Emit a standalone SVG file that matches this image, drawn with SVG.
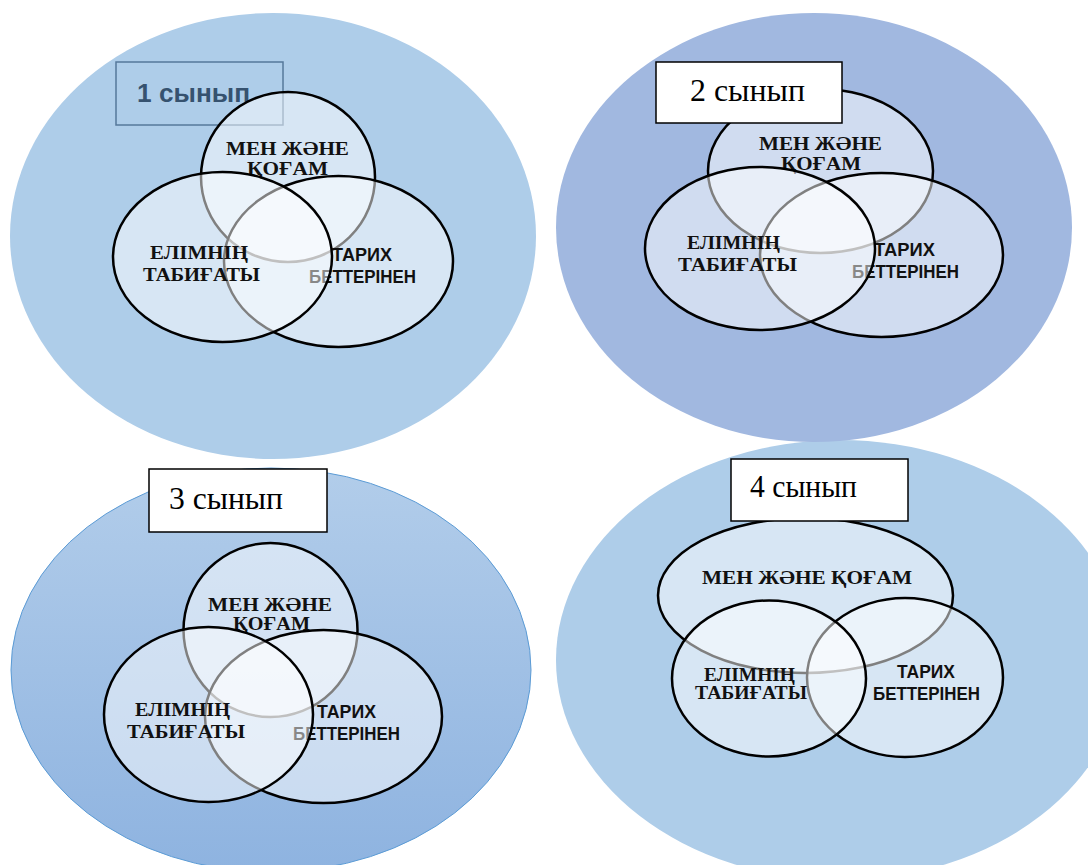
<svg xmlns="http://www.w3.org/2000/svg" width="1088" height="865" viewBox="0 0 1088 865">
<style>
.c{fill:#ffffff;fill-opacity:0.5;stroke:#000;stroke-width:2.5}
.sf{font-family:"Liberation Serif","DejaVu Serif","Noto Serif","Times New Roman","FreeSerif",serif;font-weight:bold;fill:#111;text-anchor:middle}
.ss{font-family:"Liberation Sans","DejaVu Sans",sans-serif;font-weight:bold;fill:#111;text-anchor:middle}
.box{fill:#fff;stroke:#000;stroke-width:1.5}
.lbl{font-family:"Liberation Serif","DejaVu Serif","Noto Serif","Times New Roman","FreeSerif",serif;font-size:31px;fill:#000}
</style>
<defs>
<linearGradient id="g3" x1="0" y1="0" x2="0" y2="1">
<stop offset="0" stop-color="#b2cdea"/>
<stop offset="1" stop-color="#8eb3e0"/>
</linearGradient>
</defs>
<rect width="1088" height="865" fill="#fff"/>

<!-- Panel 4 -->
<g id="panel4">
<ellipse cx="840" cy="660" rx="284" ry="220" fill="#aecde9"/>
<g id="p4-top"><ellipse class="c" cx="805.5" cy="595.5" rx="147.5" ry="77.5"/>
<text class="sf" x="807" y="584" font-size="18" textLength="210" lengthAdjust="spacingAndGlyphs">МЕН ЖӘНЕ ҚОҒАМ</text></g>
<g id="p4-right"><ellipse class="c" cx="905" cy="677.5" rx="98" ry="79.5"/>
<text class="ss" x="926" y="678" font-size="18" textLength="58" lengthAdjust="spacingAndGlyphs">ТАРИХ</text>
<text class="ss" x="926.5" y="700" font-size="18" textLength="107" lengthAdjust="spacingAndGlyphs">БЕТТЕРІНЕН</text></g>
<g id="p4-left"><ellipse class="c" cx="769" cy="678.5" rx="97" ry="78"/>
<text class="sf" x="749.5" y="681" font-size="18" textLength="91" lengthAdjust="spacingAndGlyphs">ЕЛІМНІҢ</text>
<text class="sf" x="751" y="699" font-size="18" textLength="112" lengthAdjust="spacingAndGlyphs">ТАБИҒАТЫ</text></g>
<g id="p4-label"><rect class="box" x="731" y="459" width="177" height="62"/>
<text class="lbl" x="750" y="497" textLength="107" lengthAdjust="spacingAndGlyphs">4 сынып</text></g>
</g>

<!-- Panel 1 -->
<g id="panel1">
<ellipse cx="273" cy="236" rx="263" ry="223" fill="#aecde9"/>
<g id="p1-label"><rect x="116" y="62" width="167" height="63" fill="none" stroke="#56789a" stroke-width="1.5"/>
<text x="137" y="102" font-family="'Liberation Sans','DejaVu Sans',sans-serif" font-weight="bold" font-size="26" fill="#36526f" textLength="113" lengthAdjust="spacingAndGlyphs">1 сынып</text></g>
<g id="p1-top"><ellipse class="c" cx="288" cy="177" rx="87" ry="85"/>
<text class="sf" x="287.5" y="155" font-size="19" textLength="123" lengthAdjust="spacingAndGlyphs">МЕН ЖӘНЕ</text>
<text class="sf" x="287.5" y="175" font-size="19" textLength="81" lengthAdjust="spacingAndGlyphs">ҚОҒАМ</text></g>
<g id="p1-right"><ellipse class="c" cx="338.5" cy="261.5" rx="114.5" ry="85.5"/>
<text class="ss" x="362" y="261" font-size="18" textLength="60" lengthAdjust="spacingAndGlyphs">ТАРИХ</text>
<text class="ss" x="362.5" y="283" font-size="18" textLength="107" lengthAdjust="spacingAndGlyphs">БЕТТЕРІНЕН</text></g>
<g id="p1-left"><ellipse class="c" cx="222.5" cy="257" rx="109.5" ry="85"/>
<text class="sf" x="199" y="259" font-size="19" textLength="98" lengthAdjust="spacingAndGlyphs">ЕЛІМНІҢ</text>
<text class="sf" x="201.5" y="281" font-size="19" textLength="117" lengthAdjust="spacingAndGlyphs">ТАБИҒАТЫ</text></g>
</g>

<!-- Panel 2 -->
<g id="panel2">
<ellipse cx="814" cy="227.5" rx="258" ry="214.5" fill="#a1b8e0"/>
<g id="p2-top"><ellipse class="c" cx="820.5" cy="171" rx="112.5" ry="82"/>
<text class="sf" x="820.5" y="150" font-size="19" textLength="123" lengthAdjust="spacingAndGlyphs">МЕН ЖӘНЕ</text>
<text class="sf" x="821" y="170" font-size="19" textLength="80" lengthAdjust="spacingAndGlyphs">ҚОҒАМ</text></g>
<g id="p2-right"><ellipse class="c" cx="881.5" cy="255" rx="121.5" ry="82"/>
<text class="ss" x="904.5" y="256" font-size="18" textLength="61" lengthAdjust="spacingAndGlyphs">ТАРИХ</text>
<text class="ss" x="905.5" y="278" font-size="18" textLength="107" lengthAdjust="spacingAndGlyphs">БЕТТЕРІНЕН</text></g>
<g id="p2-left"><ellipse class="c" cx="760" cy="248.5" rx="115" ry="81.5"/>
<text class="sf" x="733.5" y="249" font-size="19" textLength="93" lengthAdjust="spacingAndGlyphs">ЕЛІМНІҢ</text>
<text class="sf" x="737.5" y="271" font-size="19" textLength="119" lengthAdjust="spacingAndGlyphs">ТАБИҒАТЫ</text></g>
<g id="p2-label"><rect class="box" x="656" y="62" width="186" height="61"/>
<text class="lbl" x="690" y="101" textLength="115" lengthAdjust="spacingAndGlyphs">2 сынып</text></g>
</g>

<!-- Panel 3 -->
<g id="panel3">
<ellipse cx="271" cy="670" rx="260" ry="202" fill="url(#g3)" stroke="#5b9bd5" stroke-width="1"/>
<g id="p3-top"><ellipse class="c" cx="270.5" cy="630" rx="87" ry="87"/>
<text class="sf" x="270" y="611" font-size="19" textLength="124" lengthAdjust="spacingAndGlyphs">МЕН ЖӘНЕ</text>
<text class="sf" x="271.5" y="630" font-size="19" textLength="77" lengthAdjust="spacingAndGlyphs">ҚОҒАМ</text></g>
<g id="p3-right"><ellipse class="c" cx="323.5" cy="716.5" rx="118.5" ry="86.5"/>
<text class="ss" x="346.5" y="718" font-size="18" textLength="59" lengthAdjust="spacingAndGlyphs">ТАРИХ</text>
<text class="ss" x="346.5" y="740" font-size="18" textLength="107" lengthAdjust="spacingAndGlyphs">БЕТТЕРІНЕН</text></g>
<g id="p3-left"><ellipse class="c" cx="208.5" cy="714.5" rx="104.5" ry="87.5"/>
<text class="sf" x="182.5" y="716" font-size="19" textLength="95" lengthAdjust="spacingAndGlyphs">ЕЛІМНІҢ</text>
<text class="sf" x="186" y="738" font-size="19" textLength="118" lengthAdjust="spacingAndGlyphs">ТАБИҒАТЫ</text></g>
<g id="p3-label"><rect class="box" x="149" y="469" width="178" height="63"/>
<text class="lbl" x="169" y="509" textLength="114" lengthAdjust="spacingAndGlyphs">3 сынып</text></g>
</g>

<g id="connectors"/>
</svg>
